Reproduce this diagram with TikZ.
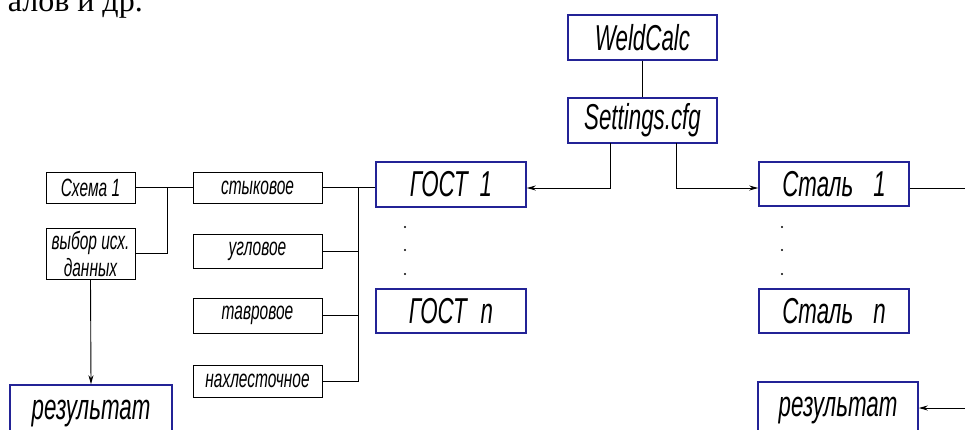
\documentclass[tikz,border=0pt]{standalone}
\usepackage{fontspec}
\usetikzlibrary{arrows.meta}
\newfontfamily\gost[FakeStretch=0.62]{Liberation Sans}
\newfontfamily\bodyserif{Liberation Serif}
\definecolor{boxblue}{RGB}{35,35,150}
\tikzset{
  bigbox/.style={draw=boxblue, line width=1.6pt, inner sep=0pt, font=\gost\itshape\fontsize{36}{38}\selectfont},
  smallbox/.style={draw=black, line width=0.8pt, inner sep=0pt, font=\gost\itshape\fontsize{25}{27}\selectfont, align=center},
  conn/.style={draw=black, line width=0.9pt},
  arr/.style={conn, -{Stealth[length=9pt,width=5pt]}},
  dotmark/.style={fill=black, circle, inner sep=0pt, minimum size=2.4pt}
}
\begin{document}
\begin{tikzpicture}[x=1pt,y=-1pt]
\useasboundingbox (0,0) rectangle (965,429);
% fragment of page text
\node[anchor=base east, inner sep=0pt, font=\bodyserif\fontsize{32}{34}\selectfont] (frag) at (143,11) {алов и др.};

% blue boxes
\node[bigbox, minimum width=149pt, minimum height=45pt] (weld) at (642.5,37.5) {WeldCalc};
\node[bigbox, minimum width=149pt, minimum height=45pt] (sett) at (642.5,120.5) {Settings.cfg};
\node[bigbox, minimum width=150pt, minimum height=45pt] (gost1) at (451,184.5) {ГОСТ\hspace{12pt}1};
\node[bigbox, minimum width=150pt, minimum height=44pt] (gostn) at (451,311) {ГОСТ\hspace{14pt}n};
\node[bigbox, minimum width=150pt, minimum height=44pt] (stal1) at (834,184) {Сталь\hspace{20pt}1};
\node[bigbox, minimum width=150pt, minimum height=44pt] (staln) at (834,311) {Сталь\hspace{20pt}n};
\node[bigbox, minimum width=160pt, minimum height=58pt] (resR) at (838,411) {результат};
\node[bigbox, minimum width=162pt, minimum height=58pt] (resL) at (91,414) {результат};

% small black boxes
\node[smallbox, minimum width=89pt, minimum height=31pt] (schema) at (90.5,187.5) {Схема 1};
\node[smallbox, minimum width=89pt, minimum height=51pt] (vybor) at (90.5,253.5) {выбор исх.\\данных};
\node[smallbox, minimum width=129pt, minimum height=31pt] (styk) at (257.5,187.5) {стыковое};
\node[smallbox, minimum width=129pt, minimum height=34pt] (uglov) at (257.5,251) {угловое};
\node[smallbox, minimum width=129pt, minimum height=35pt] (tavr) at (257.5,315.5) {тавровое};
\node[smallbox, minimum width=129pt, minimum height=32pt] (nahl) at (257.5,381) {нахлесточное};

% dots
\node[dotmark] (gd1) at (405,227) {};
\node[dotmark] (gd2) at (405,250) {};
\node[dotmark] (gd3) at (405,274) {};
\node[dotmark] (sd1) at (782,227) {};
\node[dotmark] (sd2) at (782,250) {};
\node[dotmark] (sd3) at (782,274) {};

% coordinates
\coordinate (sL) at (610,143);
\coordinate (sR) at (676,143);
\coordinate (outR) at (965,188);
\coordinate (inR) at (965,408);
\coordinate (j1) at (167,188);
\coordinate (bus) at (358,188);

% connectors
\draw[conn] (weld) -- (sett);
\draw[arr] (sL) |- ([yshift=-3.5pt]gost1.east);
\draw[arr] (sR) |- ([yshift=-4pt]stal1.west);
\draw[conn] ([yshift=-4pt]stal1.east) -- ([yshift=-4pt]stal1.east -| outR);
\draw[arr] (inR) -- (inR -| resR.east);
\draw[conn] (schema.east) -- (styk.west);
\draw[conn] (j1) |- (vybor.east);
\draw[arr] (vybor.south) -- (resL.north);
\draw[conn] (styk.east) -- (styk.east -| gost1.west);
\draw[conn] (bus) |- (nahl.east);
\draw[conn] (uglov.east) -- (uglov.east -| bus);
\draw[conn] (tavr.east) -- (tavr.east -| bus);
\end{tikzpicture}
\end{document}
